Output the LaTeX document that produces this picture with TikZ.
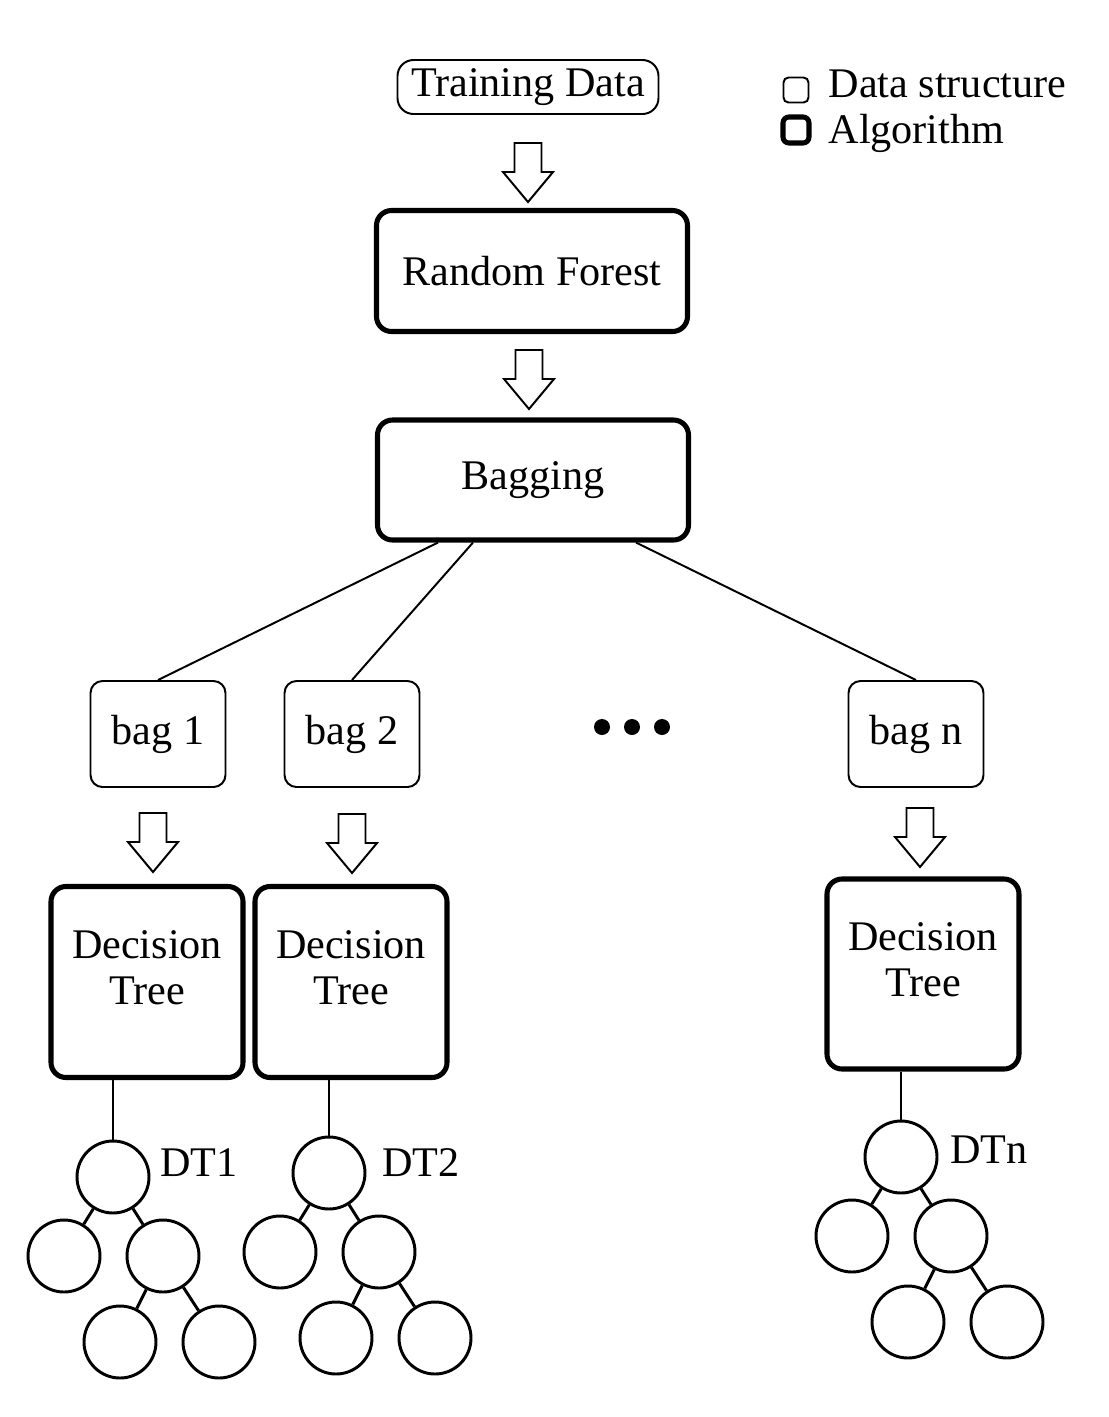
\documentclass[tikz,border=0pt]{standalone}
\usepackage{fontspec}
\setmainfont{Liberation Serif}
\usetikzlibrary{positioning, calc}
\newcommand{\pxl}{0.0125cm}
\tikzset{
  txt/.style={font=\fontsize{15}{16.3}\selectfont},
  databox/.style={txt, rectangle, draw, line width=0.7pt, align=center,
                  rounded corners=12*\pxl, inner sep=0pt},
  algobox/.style={txt, rectangle, draw, line width=1.8pt, align=center,
                  rounded corners=15*\pxl, inner sep=0pt},
  treenode/.style={circle, draw, line width=1.05pt, minimum size=72*\pxl, inner sep=0pt},
  branch/.style={line width=1.05pt},
  split/.style={line width=0.7pt},
  dot/.style={circle, fill, minimum size=16*\pxl, inner sep=0pt},
  blockdown/.pic={
    \draw[line width=0.7pt] (-13.5,0) -- (13.5,0) -- (13.5,29) -- (25,29)
      -- (0,59) -- (-25,29) -- (-13.5,29) -- cycle;
  },
}

\begin{document}
\begin{tikzpicture}[x=\pxl, y=-\pxl]
\useasboundingbox (0,0) rectangle (1109,1417);

% Input and the two algorithm stages
\node[databox, rounded corners=16*\pxl, minimum width=261*\pxl, minimum height=54*\pxl]
  (train) at (528,87) {\raisebox{-1.5pt}{Training Data}};
\node[algobox, minimum width=311*\pxl, minimum height=121*\pxl] (rf) at (532,271) {Random Forest};
\node[algobox, minimum width=311*\pxl, minimum height=120*\pxl] (bagging) at (533,480) {\raisebox{1pt}{Bagging}};
\pic at (528,143) {blockdown};
\pic at (529,350) {blockdown};

% Legend
\node[databox, rounded corners=5*\pxl, minimum size=25*\pxl] (legdata) at (796,90) {};
\node[algobox, rounded corners=6*\pxl, minimum size=26*\pxl] (legalgo) at (796,130) {};
\node[txt, anchor=base west, inner sep=0pt] (legdatatxt) at (828,97) {Data structure};
\node[txt, anchor=base west, inner sep=0pt] (legalgotxt) at (828,143) {Algorithm};

% Bags
\node[databox, minimum width=135*\pxl, minimum height=106*\pxl] (bag1) at (158,734) {bag 1};
\node[databox, minimum width=135*\pxl, minimum height=106*\pxl] (bag2) at (352,734) {bag 2};
\node[databox, minimum width=135*\pxl, minimum height=106*\pxl] (bagn) at (916,734) {bag n};
\foreach \dx [count=\i] in {602,632,662}
  \node[dot] (dot\i) at (\dx,727) {};

\draw[split] ([xshift=-95*\pxl]bagging.south) -- (bag1.north);
\draw[split] ([xshift=-60*\pxl]bagging.south) -- (bag2.north);
\draw[split] ([xshift=103*\pxl]bagging.south) -- (bagn.north);

% Decision trees
\node[algobox, minimum width=192*\pxl, minimum height=191*\pxl] (dt1) at (147,982) {Decision\\Tree\\[-6pt]};
\node[algobox, minimum width=192*\pxl, minimum height=191*\pxl] (dt2) at (351,982) {Decision\\Tree\\[-6pt]};
\node[algobox, minimum width=192*\pxl, minimum height=190*\pxl] (dtn) at (923,974) {Decision\\Tree\\[-6pt]};
\pic at (153,813) {blockdown};
\pic at (352,814) {blockdown};
\pic at (920,808) {blockdown};

% Small trees under each decision tree
\foreach \t/\x/\y/\lx/\ly/\lab in {1/113/1177/9/-14/DT1, 2/329/1173/15/-10/DT2, n/901/1157/11/-7/DTn} {
  \node[treenode] (r\t) at (\x,\y) {};
  \node[treenode] (a\t) at (\x-49,\y+79) {};
  \node[treenode] (b\t) at (\x+50,\y+79) {};
  \node[treenode] (c\t) at (\x+7,\y+165) {};
  \node[treenode] (d\t) at (\x+106,\y+165) {};
  \node[txt, anchor=west, inner sep=0pt] (lab\t) at ($(r\t.east)+(\lx,\ly)$) {\lab};
  \draw[branch] (r\t) -- (a\t);
  \draw[branch] (r\t) -- (b\t);
  \draw[branch] (b\t) -- (c\t);
  \draw[branch] (b\t) -- (d\t);
  \draw[branch] (r\t.north) -- (r\t.north |- dt\t.south);
}

\end{tikzpicture}
\end{document}
